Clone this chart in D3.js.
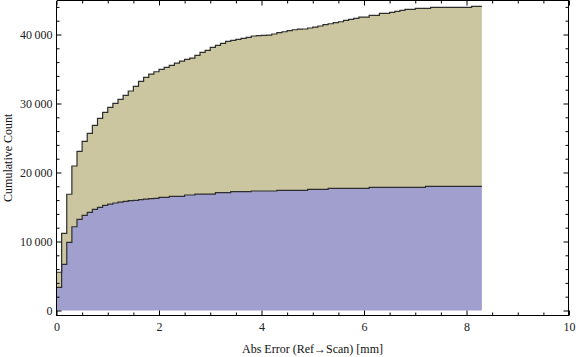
<!DOCTYPE html>
<html>
<head>
	<meta charset="utf-8">
	<title>Cumulative Count</title>
	<style>
		body { margin: 0; background: #fff; }
		svg { display: block; }
		text { font-family: "Liberation Serif", "Times New Roman", serif; }
	</style>
</head>
<script src="https://d3js.org/d3.v7.min.js"></script>
<body>

<div id="viz"></div>

<script>

// histogram bins: width 0.1 mm starting at 0, 83 bins
var binWidth = 0.1;

// cumulative count of the lower (blue) series, per bin
var blueCum = [
	3360, 6690, 9880, 12140, 13220, 13800, 14230, 14660, 14950, 15240,
	15430, 15580, 15720, 15820, 15910, 15970, 16060, 16150, 16200, 16260,
	16400, 16400, 16550, 16550, 16550, 16740, 16740, 16880, 16880, 16880,
	16880, 17070, 17070, 17070, 17220, 17220, 17220, 17220, 17320, 17320,
	17320, 17320, 17320, 17420, 17420, 17420, 17420, 17420, 17420, 17560,
	17560, 17560, 17560, 17710, 17710, 17710, 17710, 17710, 17710, 17710,
	17710, 17850, 17850, 17850, 17850, 17850, 17850, 17850, 17850, 17850,
	17850, 17850, 18000, 18000, 18000, 18000, 18000, 18000, 18000, 18000,
	18000, 18000, 18000
];

// cumulative count of both series stacked (top of the khaki area), per bin
var totalCum = [
	5540, 11190, 16850, 20940, 23060, 24520, 25680, 26840, 27850, 28720,
	29450, 30020, 30600, 31180, 31810, 32490, 33210, 33790, 34270, 34600,
	34950, 35240, 35530, 35860, 36150, 36400, 36590, 36980, 37410, 37700,
	38140, 38430, 38720, 39010, 39150, 39300, 39440, 39590, 39780, 39830,
	39870, 39900, 40070, 40260, 40400, 40550, 40690, 40790, 40800, 40940,
	41080, 41230, 41420, 41560, 41710, 41850, 42050, 42190, 42340, 42530,
	42530, 42770, 42770, 43060, 43060, 43210, 43350, 43500, 43640, 43640,
	43790, 43790, 43790, 43930, 43930, 43930, 43930, 43930, 43930, 43930,
	43930, 44080, 44080
];

var xMajor = [0, 2, 4, 6, 8, 10];
var yMajor = [0, 10000, 20000, 30000, 40000];

var xLabel = "Abs Error (Ref\u2192Scan) [mm]";
var yLabel = "Cumulative Count";

//Basic visual setup
var W = 576, H = 357;
var frame = { left: 56.5, right: 568.5, top: 0.5, bottom: 315.5 };

var svg = d3.select("#viz")
	.append("svg")
		.attr("width", W)
		.attr("height", H);

var x = d3.scaleLinear()
	.domain([0, 10])
	.range([56.5, 569]);

var y = d3.scaleLinear()
	.domain([0, 45000])
	.range([310.5, 0]);

// bin start points, plus a closing point at the last bin's right edge
var pts = blueCum.map(function(b, i) {
	return { x: i * binWidth, blue: b, total: totalCum[i] };
});
var last = pts[pts.length - 1];
pts.push({ x: pts.length * binWidth, blue: last.blue, total: last.total });

// areas
svg.append("path")
	.datum(pts)
	.attr("fill", "#cbc6a0")
	.attr("d", d3.area()
		.curve(d3.curveStepAfter)
		.x(function(d) { return x(d.x); })
		.y0(function(d) { return y(d.blue); })
		.y1(function(d) { return y(d.total); }));

svg.append("path")
	.datum(pts)
	.attr("fill", "#a09fce")
	.attr("d", d3.area()
		.curve(d3.curveStepAfter)
		.x(function(d) { return x(d.x); })
		.y0(y(0))
		.y1(function(d) { return y(d.blue); }));

// outlines
[ "blue", "total" ].forEach(function(k) {
	svg.append("path")
		.datum(pts)
		.attr("fill", "none")
		.attr("stroke", "#2e2e2e")
		.attr("stroke-width", 1.2)
		.attr("d", d3.line()
			.curve(d3.curveStepAfter)
			.x(function(d) { return x(d.x); })
			.y(function(d) { return y(d[k]); }));
});

// frame, four sides
var frameLines = [
	[frame.left, frame.top, frame.right, frame.top],
	[frame.left, frame.bottom, frame.right, frame.bottom],
	[frame.left, frame.top, frame.left, frame.bottom],
	[frame.right, frame.top, frame.right, frame.bottom]
];
svg.append("g")
	.selectAll("line")
	.data(frameLines)
	.join("line")
		.attr("x1", function(d) { return d[0]; })
		.attr("y1", function(d) { return d[1]; })
		.attr("x2", function(d) { return d[2]; })
		.attr("y2", function(d) { return d[3]; })
		.style("stroke", "#000")
		.style("stroke-width", "1px")
		.style("shape-rendering", "crispEdges");

var loc = d3.formatLocale({ decimal: ".", thousands: "\u2009", grouping: [3], currency: ["", ""] });
var fmt = loc.format(",");

var xMinor = d3.range(0, 10.01, 0.5).filter(function(v) { return xMajor.indexOf(v) < 0; });
var yMinor = d3.range(0, 44001, 2000).filter(function(v) { return yMajor.indexOf(v) < 0; });

function styleAxis(g) {
	g.select(".domain").remove();
	g.selectAll("line").attr("stroke", "#000");
	g.selectAll("text")
		.attr("fill", "#222")
		.style("font-family", "'Liberation Serif', serif")
		.style("font-size", "12px");
}

// bottom
svg.append("g")
	.attr("transform", "translate(0," + frame.bottom + ")")
	.call(d3.axisBottom(x).tickValues(xMajor).tickSize(-5).tickPadding(7).tickFormat(fmt))
	.call(styleAxis);
svg.append("g")
	.attr("transform", "translate(0," + frame.bottom + ")")
	.call(d3.axisBottom(x).tickValues(xMinor).tickSize(-3).tickFormat(""))
	.call(styleAxis);

// top
svg.append("g")
	.attr("transform", "translate(0," + frame.top + ")")
	.call(d3.axisTop(x).tickValues(xMajor).tickSize(-5).tickFormat(""))
	.call(styleAxis);
svg.append("g")
	.attr("transform", "translate(0," + frame.top + ")")
	.call(d3.axisTop(x).tickValues(xMinor).tickSize(-3).tickFormat(""))
	.call(styleAxis);

// left
svg.append("g")
	.attr("transform", "translate(" + frame.left + ",0)")
	.call(d3.axisLeft(y).tickValues(yMajor).tickSize(-5).tickPadding(4).tickFormat(fmt))
	.call(styleAxis);
svg.append("g")
	.attr("transform", "translate(" + frame.left + ",0)")
	.call(d3.axisLeft(y).tickValues(yMinor).tickSize(-3).tickFormat(""))
	.call(styleAxis);

// right
svg.append("g")
	.attr("transform", "translate(" + frame.right + ",0)")
	.call(d3.axisRight(y).tickValues(yMajor).tickSize(-5).tickFormat(""))
	.call(styleAxis);
svg.append("g")
	.attr("transform", "translate(" + frame.right + ",0)")
	.call(d3.axisRight(y).tickValues(yMinor).tickSize(-3).tickFormat(""))
	.call(styleAxis);

// axis titles
svg.append("text")
	.attr("x", (frame.left + frame.right) / 2)
	.attr("y", 353)
	.attr("text-anchor", "middle")
	.style("font-size", "12px")
	.attr("fill", "#111")
	.text(xLabel);

svg.append("text")
	.attr("transform", "translate(12," + (frame.bottom / 2) + ") rotate(-90)")
	.attr("text-anchor", "middle")
	.style("font-size", "12px")
	.attr("fill", "#111")
	.text(yLabel);

</script>

</body>
</html>
